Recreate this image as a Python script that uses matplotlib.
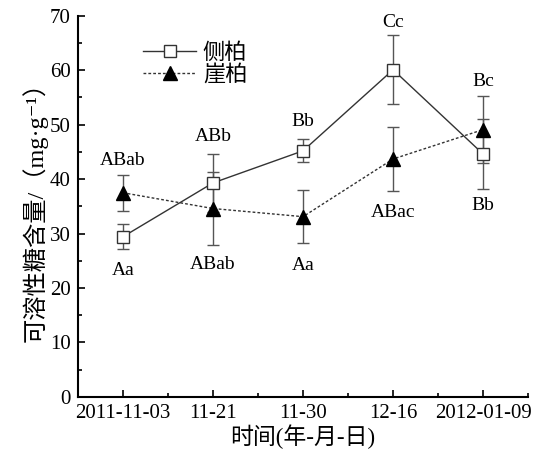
import numpy as np
import matplotlib
matplotlib.use('Agg')
from matplotlib import pyplot
from matplotlib.ticker import MultipleLocator

pyplot.rcParams['font.family'] = ['Liberation Serif', 'Noto Sans CJK SC', 'DejaVu Sans']
pyplot.rcParams['font.size'] = 15
pyplot.rcParams['axes.unicode_minus'] = False

# sampling dates and soluble sugar content (mg/g)
dates = ['2011-11-03', '11-21', '11-30', '12-16', '2012-01-09']
cebai_mean = [29.4, 39.3, 45.2, 60.1, 44.6]
cebai_err = [2.3, 5.4, 2.1, 6.3, 6.4]
yabai_mean = [37.5, 34.6, 33.1, 43.7, 49.1]
yabai_err = [3.3, 6.7, 4.9, 5.9, 6.2]

# significance letters: above / below each point
top_labels = ['ABab', 'ABb', 'Bb', 'Cc', 'Bc']
top_y = [43.4, 47.8, 50.5, 68.8, 57.9]
bottom_labels = ['Aa', 'ABab', 'Aa', 'ABac', 'Bb']
bottom_y = [23.3, 24.3, 24.1, 33.8, 35.1]

x = np.arange(1, len(dates) + 1)

fig = pyplot.figure(figsize=(5.33, 4.53), dpi=100)
ax = fig.add_axes([0.146, 0.124, 0.845, 0.841])

err_kw = dict(fmt='none', ecolor='#555555', elinewidth=1.0, capsize=4, capthick=1.0, zorder=2)
ax.errorbar(x, cebai_mean, yerr=cebai_err, **err_kw)
ax.errorbar(x, yabai_mean, yerr=yabai_err, **err_kw)

l1, = ax.plot(x, cebai_mean, color='#333333', lw=1.0, marker='s', ms=8,
              mfc='white', mec='#333333', mew=1.0, label='侧柏', zorder=3)
l2, = ax.plot(x, yabai_mean, color='#333333', lw=1.0, ls=(0, (2, 1.5)),
              marker='^', ms=10, mfc='black', mec='black', label='崖柏', zorder=3)

for xi, lab, yi in zip(x, top_labels, top_y):
    ax.text(xi, yi, lab, ha='center', va='center', fontsize=14)
for xi, lab, yi in zip(x, bottom_labels, bottom_y):
    ax.text(xi, yi, lab, ha='center', va='center', fontsize=14)

ax.set_xlim(0.5, 5.5)
ax.set_ylim(0, 70)
ax.set_xticks(x)
ax.set_xticklabels(dates)
ax.xaxis.set_minor_locator(MultipleLocator(0.5))
ax.yaxis.set_major_locator(MultipleLocator(10))
ax.yaxis.set_minor_locator(MultipleLocator(5))
ax.tick_params(which='both', direction='in', width=1.2)
ax.tick_params(which='major', length=5, labelsize=15, pad=5)
ax.tick_params(which='minor', length=3)
for side in ['top', 'right']:
    ax.spines[side].set_visible(False)
for side in ['left', 'bottom']:
    ax.spines[side].set_linewidth(1.5)

ax.set_xlabel('时间(年-月-日)', fontsize=16.5, labelpad=1)
ax.set_ylabel('可溶性糖含量/（mg·g⁻¹）', fontsize=17.5, labelpad=2)

ax.legend(handles=[l1, l2], loc='upper left', bbox_to_anchor=(0.1, 0.98), frameon=False,
          fontsize=16, handlelength=2.4, handletextpad=0.3, labelspacing=0.05)

fig.savefig('out.png', dpi=100)
